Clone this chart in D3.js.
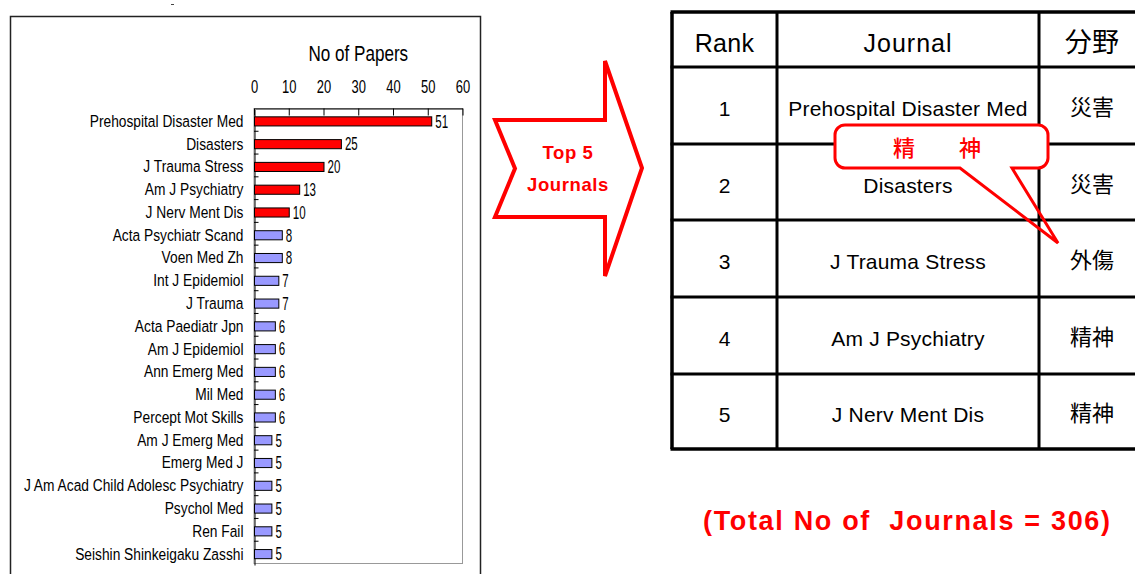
<!DOCTYPE html>
<html>
<head>
<meta charset="utf-8">
<script src="https://cdn.jsdelivr.net/npm/d3@7/dist/d3.min.js"></script>
<style>
  html, body { margin: 0; padding: 0; background: #fff; }
  svg { display: block; }
</style>
</head>
<body>
<svg id="chart" width="1135" height="574"></svg>
<script>
// ---------- data ----------
const journals = [
  "Prehospital Disaster Med", "Disasters", "J Trauma Stress", "Am J Psychiatry",
  "J Nerv Ment Dis", "Acta Psychiatr Scand", "Voen Med Zh", "Int J Epidemiol",
  "J Trauma", "Acta Paediatr Jpn", "Am J Epidemiol", "Ann Emerg Med", "Mil Med",
  "Percept Mot Skills", "Am J Emerg Med", "Emerg Med J",
  "J Am Acad Child Adolesc Psychiatry", "Psychol Med", "Ren Fail",
  "Seishin Shinkeigaku Zasshi"
];
const papers = [51, 25, 20, 13, 10, 8, 8, 7, 7, 6, 6, 6, 6, 6, 5, 5, 5, 5, 5, 5];
const xTicks = [0, 10, 20, 30, 40, 50, 60];
const topN = 5;

const tableHeader = ["Rank", "Journal", "分野"];
const tableRanks = ["1", "2", "3", "4", "5"];
const tableJournals = ["Prehospital Disaster Med", "Disasters", "J Trauma Stress", "Am J Psychiatry", "J Nerv Ment Dis"];
const tableFields = ["災害", "災害", "外傷", "精神", "精神"];
const calloutText = "精　　神";
const arrowText = ["Top 5", "Journals"];
const totalText = "(Total No of  Journals = 306)";

// ---------- helpers ----------
const SANS = "Liberation Sans, Arial, sans-serif";
// horizontally condense a text element around its anchor point
function condense(sel, s) {
  sel.each(function () {
    const t = d3.select(this);
    const x = +t.attr("x") || 0, y = +t.attr("y") || 0;
    t.attr("x", 0).attr("y", 0).attr("transform", `translate(${x},${y}) scale(${s},1)`);
  });
}

// ---------- chart ----------
const svg = d3.select("#chart");

// outer box of left panel
svg.append("rect").attr("x", 10.5).attr("y", 16.5).attr("width", 470).attr("height", 600)
  .attr("fill", "none").attr("stroke", "#222").attr("stroke-width", 1.5);
// small stray dash
svg.append("line").attr("x1", 171).attr("x2", 174).attr("y1", 4.5).attr("y2", 4.5)
  .attr("stroke", "#444").attr("stroke-width", 1);

const plot = { left: 254, right: 462.5, top: 108, bottom: 563 };

const x = d3.scaleLinear().domain([0, 60]).range([plot.left, plot.right]);
const y = d3.scaleBand().domain(journals).range([plot.top + 1.5, plot.bottom + 2]).padding(0);

// plot frame
svg.append("rect").attr("x", plot.left).attr("y", plot.top + 0.5)
  .attr("width", plot.right - plot.left).attr("height", plot.bottom - plot.top)
  .attr("fill", "none").attr("stroke", "#999").attr("stroke-width", 1);

// top axis
const xAxis = d3.axisTop(x).tickValues(xTicks).tickSize(-7).tickPadding(0).tickSizeOuter(0);
const gx = svg.append("g").attr("transform", `translate(0,${plot.top + 0.5})`).call(xAxis);
gx.select(".domain").attr("stroke", "#000");
gx.selectAll(".tick line").attr("stroke", "#000");
gx.selectAll(".tick text").attr("y", -16).attr("dy", "0").attr("font-size", 18).attr("fill", "#000")
  .attr("font-family", SANS).call(condense, 0.72);

// title
svg.append("text").attr("x", (x(0) + x(60)) / 2).attr("y", 61)
  .attr("text-anchor", "middle").attr("font-family", SANS).attr("font-size", 22.5).attr("fill", "#000")
  .text("No of Papers").call(condense, 0.76);

// left axis
const yAxis = d3.axisLeft(y).tickSize(0).tickPadding(11);
const gy = svg.append("g").attr("transform", `translate(${plot.left + 0.5},0)`).call(yAxis);
gy.select(".domain").attr("stroke", "#000");
gy.selectAll(".tick text").attr("font-size", 16.5).attr("fill", "#000")
  .attr("font-family", SANS).attr("dy", "0.36em").call(condense, 0.835);
// interior tick marks between categories
svg.append("g").selectAll("line").data(journals.slice(1)).join("line")
  .attr("x1", plot.left).attr("x2", plot.left + 4.5)
  .attr("y1", d => y(d) - 1).attr("y2", d => y(d) - 1)
  .attr("stroke", "#000").attr("stroke-width", 1);

// bars
const barH = y.bandwidth() * 0.4;
svg.append("g").selectAll("rect").data(journals).join("rect")
  .attr("x", x(0) + 0.5)
  .attr("y", d => y(d) + (y.bandwidth() - barH) / 2 + 0.5)
  .attr("width", (d, i) => x(papers[i]) - x(0))
  .attr("height", barH)
  .attr("fill", (d, i) => i < topN ? "#ff0000" : "#9999ff")
  .attr("stroke", "#000").attr("stroke-width", 1);

// value labels
svg.append("g").selectAll("text").data(journals).join("text")
  .attr("x", (d, i) => x(papers[i]) + 4)
  .attr("y", d => y(d) + y.bandwidth() / 2 + 0.5)
  .attr("dy", "0.36em").attr("font-family", SANS).attr("font-size", 17.5).attr("fill", "#000")
  .text((d, i) => papers[i]).call(condense, 0.66);

// ---------- arrow ----------
const arrowPts = [[495, 120], [605, 120], [605, 61], [642, 168], [605, 276], [605, 217], [495, 217], [515, 168.5]];
svg.append("path").attr("d", d3.line()(arrowPts) + "Z")
  .attr("fill", "#fff").attr("stroke", "#ff0000").attr("stroke-width", 4).attr("stroke-linejoin", "miter");
svg.append("g").selectAll("text").data(arrowText).join("text")
  .attr("x", 568).attr("y", (d, i) => 159 + i * 32)
  .attr("text-anchor", "middle").attr("font-family", SANS)
  .attr("font-weight", "bold").attr("font-size", 18.5).attr("letter-spacing", 0.6)
  .attr("fill", "#ff0000").text(d => d);

// ---------- table ----------
const colX = [672, 777, 1039, 1200];
const rowY = [12, 67, 144, 220, 297, 374, 449];
const tbl = svg.append("g");
tbl.selectAll("line.h").data(rowY).join("line").attr("class", "h")
  .attr("x1", colX[0] - 1.5).attr("x2", 1135).attr("y1", d => d).attr("y2", d => d)
  .attr("stroke", "#000").attr("stroke-width", (d, i) => (i === 0 || i === rowY.length - 1) ? 3.5 : 3);
tbl.selectAll("line.v").data(colX.slice(0, 3)).join("line").attr("class", "v")
  .attr("x1", d => d).attr("x2", d => d).attr("y1", rowY[0]).attr("y2", rowY[rowY.length - 1])
  .attr("stroke", "#000").attr("stroke-width", (d, i) => i === 0 ? 3.5 : 3);

const colC = [(colX[0] + colX[1]) / 2, (colX[1] + colX[2]) / 2, 1092];
tbl.selectAll("text.hd").data(tableHeader).join("text").attr("class", "hd")
  .attr("x", (d, i) => colC[i]).attr("y", (rowY[0] + rowY[1]) / 2 + 3)
  .attr("dy", "0.36em").attr("text-anchor", "middle")
  .attr("font-family", (d, i) => i === 2 ? "Noto Sans CJK JP, sans-serif" : SANS)
  .attr("font-size", (d, i) => i === 2 ? 27 : 25).attr("letter-spacing", (d, i) => i === 1 ? 1 : 0.3)
  .attr("fill", "#000").text(d => d);

const rowsData = tableRanks.map((r, i) => ({ r, j: tableJournals[i], f: tableFields[i], i }));
const rowG = tbl.selectAll("g.row").data(rowsData).join("g").attr("class", "row");
rowG.append("text").attr("x", colC[0]).attr("y", d => (rowY[d.i + 1] + rowY[d.i + 2]) / 2 + 3)
  .attr("dy", "0.36em").attr("text-anchor", "middle").attr("font-family", SANS)
  .attr("font-size", 21).attr("fill", "#000").text(d => d.r);
rowG.append("text").attr("x", colC[1]).attr("y", d => (rowY[d.i + 1] + rowY[d.i + 2]) / 2 + 3)
  .attr("dy", "0.36em").attr("text-anchor", "middle").attr("font-family", SANS)
  .attr("font-size", 21).attr("letter-spacing", 0.2).attr("fill", "#000").text(d => d.j);
rowG.append("text").attr("x", colC[2]).attr("y", d => (rowY[d.i + 1] + rowY[d.i + 2]) / 2 + 2)
  .attr("dy", "0.36em").attr("text-anchor", "middle").attr("font-family", "Noto Sans CJK JP, sans-serif")
  .attr("font-size", 22).attr("fill", "#000").text(d => d.f);

// ---------- callout ----------
const cb = { x0: 835, x1: 1048, y0: 125, y1: 168, r: 10 };
svg.append("rect").attr("x", cb.x0).attr("y", cb.y0).attr("width", cb.x1 - cb.x0).attr("height", cb.y1 - cb.y0)
  .attr("rx", cb.r).attr("fill", "#fff");
const tail = { a: 960, b: 1012, tipX: 1058, tipY: 243 };
const cp = d3.path();
cp.moveTo(tail.a, cb.y1);
cp.lineTo(cb.x0 + cb.r, cb.y1);
cp.arcTo(cb.x0, cb.y1, cb.x0, cb.y1 - cb.r, cb.r);
cp.lineTo(cb.x0, cb.y0 + cb.r);
cp.arcTo(cb.x0, cb.y0, cb.x0 + cb.r, cb.y0, cb.r);
cp.lineTo(cb.x1 - cb.r, cb.y0);
cp.arcTo(cb.x1, cb.y0, cb.x1, cb.y0 + cb.r, cb.r);
cp.lineTo(cb.x1, cb.y1 - cb.r);
cp.arcTo(cb.x1, cb.y1, cb.x1 - cb.r, cb.y1, cb.r);
cp.lineTo(tail.b, cb.y1);
cp.lineTo(tail.tipX, tail.tipY);
cp.closePath();
svg.append("path").attr("d", cp.toString()).attr("fill", "none")
  .attr("stroke", "#ff0000").attr("stroke-width", 3).attr("stroke-linejoin", "miter");
svg.append("text").attr("x", 937).attr("y", 148).attr("dy", "0.36em").attr("text-anchor", "middle")
  .attr("font-family", "Noto Sans CJK JP, sans-serif").attr("font-size", 22).attr("font-weight", 500)
  .attr("fill", "#ff0000").text(calloutText);

// ---------- total ----------
svg.append("text").attr("x", 703).attr("y", 530)
  .attr("font-family", SANS).attr("font-weight", "bold")
  .attr("font-size", 27).attr("fill", "#ff0000")
  .attr("textLength", 407).attr("lengthAdjust", "spacing")
  .style("white-space", "pre").text(totalText);
</script>
</body>
</html>
